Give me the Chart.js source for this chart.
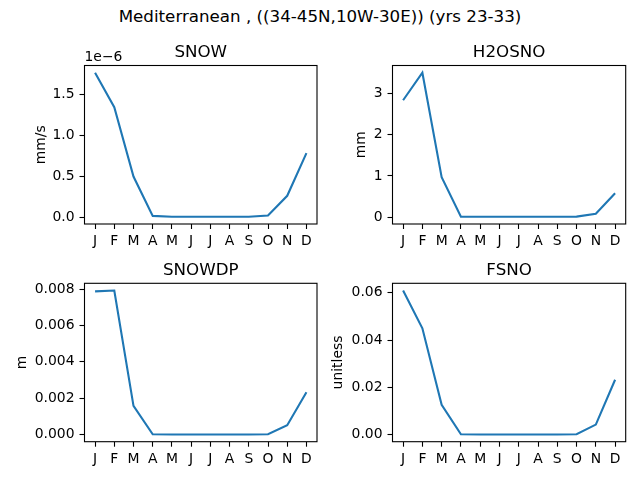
<!DOCTYPE html>
<html lang="en">
<head>
    <meta charset="UTF-8">
    <title>Mediterranean snow climatology</title>
    <script src="https://cdn.jsdelivr.net/npm/chart.js"></script>
    <style>
        body { margin: 0; background: #fff; }
        .fig { position: relative; width: 640px; height: 480px; overflow: hidden; }
        .fig canvas { position: absolute; left: 0; top: 0; }
        #suptitle {
            position: absolute; left: 0; top: 6px; width: 640px;
            text-align: center; font: 16.7px "DejaVu Sans"; line-height: 20px; color: #000;
        }
    </style>
</head>
<body>
    <div class="fig">
        <div id="suptitle">Mediterranean , ((34-45N,10W-30E)) (yrs 23-33)</div>
        <canvas id="snowChart" width="640" height="480"></canvas>
        <canvas id="h2osnoChart" width="640" height="480"></canvas>
        <canvas id="snowdpChart" width="640" height="480"></canvas>
        <canvas id="fsnoChart" width="640" height="480"></canvas>
    </div>
    <script>
        // month labels
        const months = ['J', 'F', 'M', 'A', 'M', 'J', 'J', 'A', 'S', 'O', 'N', 'D'];

        // monthly means
        const snow = [1.76e-6, 1.34e-6, 0.495e-6, 0.015e-6, 0.005e-6, 0.004e-6, 0.004e-6, 0.004e-6, 0.005e-6, 0.02e-6, 0.26e-6, 0.78e-6];
        const h2osno = [2.84, 3.51, 0.97, 0.01, 0.005, 0.005, 0.005, 0.005, 0.005, 0.01, 0.08, 0.58];
        const snowdp = [0.00787, 0.00792, 0.00157, 0.00001, 0, 0, 0, 0, 0, 0.00001, 0.00051, 0.00232];
        const fsno = [0.061, 0.045, 0.0126, 0.0001, 0, 0, 0, 0, 0, 0.0001, 0.0042, 0.0232];

        // y tick values and their labels
        const snowTicks = [0, 0.5e-6, 1.0e-6, 1.5e-6];
        const snowTickLabels = ['0.0', '0.5', '1.0', '1.5'];
        const h2osnoTicks = [0, 1, 2, 3];
        const h2osnoTickLabels = ['0', '1', '2', '3'];
        const snowdpTicks = [0, 0.002, 0.004, 0.006, 0.008];
        const snowdpTickLabels = ['0.000', '0.002', '0.004', '0.006', '0.008'];
        const fsnoTicks = [0, 0.02, 0.04, 0.06];
        const fsnoTickLabels = ['0.00', '0.02', '0.04', '0.06'];

        Chart.defaults.font.family = '"DejaVu Sans"';
        Chart.defaults.font.size = 13.9;
        Chart.defaults.color = '#000';

        // frame, title, y label and offset text like matplotlib
        const panelText = {
            id: 'panelText',
            afterDraw(chart, args, opts) {
                const { ctx, chartArea: a } = chart;
                ctx.save();
                ctx.strokeStyle = '#000';
                ctx.lineWidth = 1.1;
                ctx.strokeRect(a.left, a.top, a.right - a.left, a.bottom - a.top);

                ctx.fillStyle = '#000';
                ctx.textAlign = 'center';
                ctx.textBaseline = 'alphabetic';
                ctx.font = '16.7px "DejaVu Sans"';
                ctx.fillText(opts.title, (a.left + a.right) / 2, a.top - 8.3);

                ctx.font = '13.9px "DejaVu Sans"';
                ctx.save();
                ctx.translate(opts.ylabelX, (a.top + a.bottom) / 2);
                ctx.rotate(-Math.PI / 2);
                ctx.textBaseline = 'middle';
                ctx.fillText(opts.ylabel, 0, 0);
                ctx.restore();

                if (opts.offset) {
                    ctx.textAlign = 'left';
                    ctx.fillText(opts.offset, a.left, a.top - 5);
                }
                ctx.restore();
            }
        };

        function createPanel(id, values, ticks, tickLabels, title, ylabel, offset, box) {
            const lo = Math.min(...values);
            const hi = Math.max(...values);
            const margin = (hi - lo) * 0.05;
            const yAxisWidth = 80;
            const xAxisHeight = 30;

            return new Chart(document.getElementById(id), {
                type: 'line',
                data: {
                    datasets: [{
                        data: values.map((v, i) => ({ x: i, y: v })),
                        borderColor: '#1f77b4',
                        borderWidth: 2.1,
                        pointRadius: 0,
                        tension: 0,
                        fill: false
                    }]
                },
                options: {
                    responsive: false,
                    animation: false,
                    events: [],
                    layout: {
                        padding: {
                            left: box.left - yAxisWidth,
                            right: 640 - box.right,
                            top: box.top,
                            bottom: 480 - box.bottom - xAxisHeight
                        }
                    },
                    plugins: {
                        legend: { display: false },
                        tooltip: { enabled: false },
                        panelText: { title: title, ylabel: ylabel, offset: offset, ylabelX: box.ylabelX }
                    },
                    scales: {
                        x: {
                            type: 'linear',
                            min: -0.55,
                            max: months.length - 1 + 0.55,
                            afterBuildTicks: (scale) => {
                                scale.ticks = months.map((m, i) => ({ value: i }));
                            },
                            afterFit: (scale) => { scale.height = xAxisHeight; },
                            ticks: {
                                autoSkip: false,
                                maxRotation: 0,
                                padding: 4,
                                callback: (v) => months[v]
                            },
                            grid: { drawOnChartArea: false, color: '#000', tickLength: 5, tickWidth: 1.1 },
                            border: { display: false }
                        },
                        y: {
                            min: lo - margin,
                            max: hi + margin,
                            afterBuildTicks: (scale) => {
                                scale.ticks = ticks.map(t => ({ value: t }));
                            },
                            afterFit: (scale) => { scale.width = yAxisWidth; },
                            ticks: {
                                padding: 5,
                                callback: (v) => tickLabels[ticks.indexOf(v)]
                            },
                            grid: { drawOnChartArea: false, color: '#000', tickLength: 5, tickWidth: 1.1 },
                            border: { display: false }
                        }
                    }
                },
                plugins: [panelText]
            });
        }

        createPanel('snowChart', snow, snowTicks, snowTickLabels, 'SNOW', 'mm/s', '1e\u22126',
            { left: 84.5, right: 317, top: 65.5, bottom: 224, ylabelX: 41.5 });
        createPanel('h2osnoChart', h2osno, h2osnoTicks, h2osnoTickLabels, 'H2OSNO', 'mm', null,
            { left: 392.5, right: 625.7, top: 65.5, bottom: 224, ylabelX: 361.5 });
        createPanel('snowdpChart', snowdp, snowdpTicks, snowdpTickLabels, 'SNOWDP', 'm', null,
            { left: 84.5, right: 317, top: 283.3, bottom: 441.7, ylabelX: 22 });
        createPanel('fsnoChart', fsno, fsnoTicks, fsnoTickLabels, 'FSNO', 'unitless', null,
            { left: 392.5, right: 625.7, top: 283.3, bottom: 441.7, ylabelX: 338 });
    </script>
</body>
</html>
